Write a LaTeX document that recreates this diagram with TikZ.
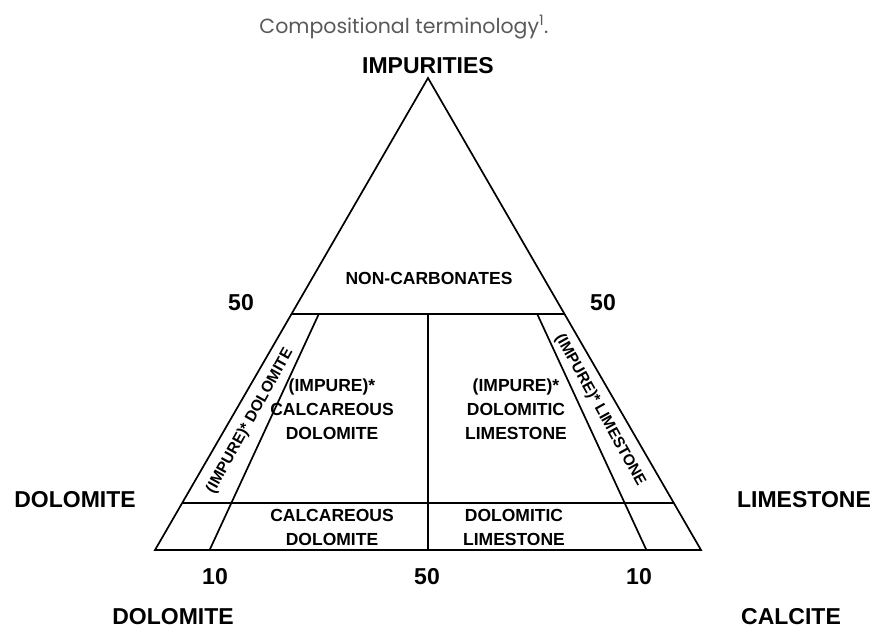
\documentclass[tikz,border=0pt]{standalone}
\usepackage{fontspec}
\setmainfont{Liberation Sans}
\newfontfamily\titlefont{Poppins}
\usetikzlibrary{positioning, calc}
\tikzset{
corner/.style={font=\fontsize{23}{25}\selectfont\bfseries}, % end members and tick numbers
field/.style={align=center, font=\fontsize{17.5}{24}\selectfont\bfseries}, % names inside the fields
strip/.style={inner sep=0pt, font=\fontsize{15.5}{18}\selectfont\bfseries}, % names in the narrow strips
caption/.style={font=\titlefont\fontsize{20.5}{22}\selectfont, text=black!65}, % heading
}

\begin{document}
\begin{tikzpicture}[x=1pt, y=-1pt, line width=1.7pt]
            \useasboundingbox (0,0) rectangle (877,633);
            % corners of the triangle
            \coordinate (apex) at (428,78);
            \coordinate (dol) at (155,550);
            \coordinate (cal) at (701,550);
            % points on the sides
            \coordinate (m50l) at ($(dol)!0.5!(apex)$);
            \coordinate (m50r) at ($(cal)!0.5!(apex)$);
            \coordinate (h10l) at ($(dol)!0.1!(apex)$);
            \coordinate (h10r) at ($(cal)!0.1!(apex)$);
            \coordinate (b10l) at ($(dol)!0.1!(cal)$);
            \coordinate (b50) at ($(dol)!0.5!(cal)$);
            \coordinate (b10r) at ($(cal)!0.1!(dol)$);
            \coordinate (i50l) at ($(b10l)!0.5!(apex)$);
            \coordinate (i50r) at ($(b10r)!0.5!(apex)$);
            \coordinate (c50) at ($(b50)!0.5!(apex)$);

            \draw (apex) -- (dol) -- (cal) -- cycle;
            \draw (m50l) -- (m50r);
            \draw (h10l) -- (h10r);
            \draw (c50) -- (b50);
            \draw (b10l) -- (i50l);
            \draw (b10r) -- (i50r);

            \node[caption] (title) at (404,27) {Compositional terminology\textsuperscript{1}.};
            \node[corner, above=0pt of apex] (imp) {IMPURITIES};
            \node[field] (noncarb) at (429,278) {NON-CARBONATES};
            \node[corner] (n50l) at (241,303) {50};
            \node[corner] (n50r) at (603,303) {50};
            \node[strip, rotate=61] (impdol) at (250,421) {(IMPURE)* DOLOMITE};
            \node[strip, rotate=-61] (implime) at (600,410) {(IMPURE)* LIMESTONE};
            \node[field] (impcaldol) at (332,409) {(IMPURE)*\\CALCAREOUS\\DOLOMITE};
            \node[field] (impdollime) at (516,409) {(IMPURE)*\\DOLOMITIC\\LIMESTONE};
            \node[field] (caldol) at (332,527) {CALCAREOUS\\DOLOMITE};
            \node[field] (dollime) at (514,527) {DOLOMITIC\\LIMESTONE};
            \node[corner] (doll) at (75,500) {DOLOMITE};
            \node[corner] (limer) at (804,500) {LIMESTONE};
            \node[corner] (n10l) at (215,577) {10};
            \node[corner] (n50b) at (427,577) {50};
            \node[corner] (n10r) at (639,577) {10};
            \node[corner] (dolb) at (173,617) {DOLOMITE};
            \node[corner] (calb) at (791,617) {CALCITE};
            \end{tikzpicture}
\end{document}
